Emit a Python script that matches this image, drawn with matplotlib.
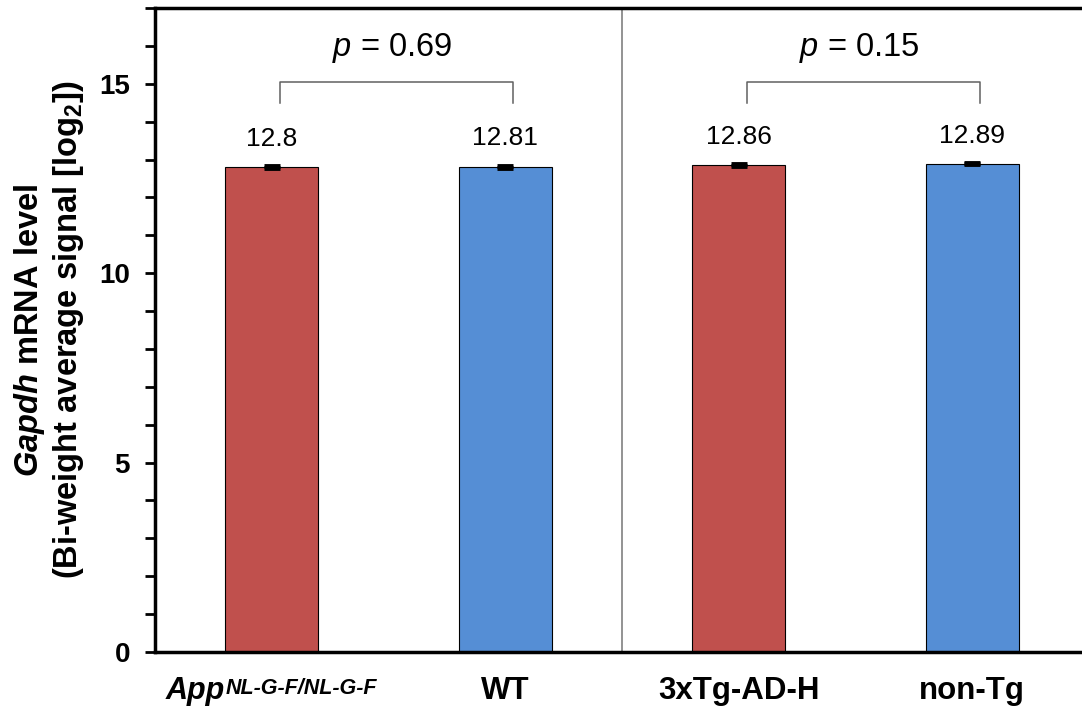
import matplotlib
matplotlib.use("Agg")
import matplotlib.pyplot as plt
from matplotlib.ticker import MultipleLocator
import matplotlib.transforms as mtrans

plt.rcParams['font.family'] = ['Liberation Sans', 'DejaVu Sans']
plt.rcParams['mathtext.fontset'] = 'custom'
plt.rcParams['mathtext.rm'] = 'Liberation Sans'
plt.rcParams['mathtext.it'] = 'Liberation Sans:italic'
plt.rcParams['mathtext.bf'] = 'Liberation Sans:bold'
plt.rcParams['mathtext.bfit'] = 'Liberation Sans:bold:italic'

# ---- data ----
groups = ["App", "WT", "3xTg-AD-H", "non-Tg"]
values = [12.8, 12.81, 12.86, 12.89]
errors = [0.03, 0.03, 0.02, 0.02]
value_labels = ["12.8", "12.81", "12.86", "12.89"]
colors = ["#C0504D", "#558ED5", "#C0504D", "#558ED5"]
pairs = [(0, 1), (2, 3)]
p_values = ["0.69", "0.15"]

W, H = 1082, 711
fig = plt.figure(figsize=(W / 100, H / 100), dpi=100)
ax = fig.add_axes([155 / W, 1 - 652 / H, 934 / W, 644 / H])

x = list(range(len(groups)))
ax.bar(x, values, width=0.4, color=colors, edgecolor='black', linewidth=0.8, zorder=2)
ax.errorbar(x, values, yerr=errors, fmt='none', ecolor='black', elinewidth=2,
            capsize=5.5, capthick=3.5, zorder=3)

for xi, v, e, lab in zip(x, values, errors, value_labels):
    ax.annotate(lab, (xi, v + e), xytext=(0, 14.5), textcoords='offset points',
                ha='center', va='baseline', fontsize=19)

# divider
ax.plot([1.5, 1.5], [0, 17], color='#808080', lw=1.2, zorder=1)

# brackets
for (a, b), p in zip(pairs, p_values):
    xa, xb = a + 0.035, b + 0.035
    ax.plot([xa, xa, xb, xb], [14.5, 15.05, 15.05, 14.5], color='#606060', lw=1.1)
    ax.text((xa + xb) / 2 - 0.02, 15.74, r'$p$ = ' + p, ha='center', va='baseline', fontsize=23.5)

ax.set_xlim(-0.5, 3.5)
ax.set_ylim(0, 17)
ax.yaxis.set_major_locator(MultipleLocator(5))
ax.yaxis.set_minor_locator(MultipleLocator(1))
ax.tick_params(axis='y', which='both', direction='out', length=7, width=2, labelsize=20, pad=11)
for t in ax.get_yticklabels():
    t.set_fontweight('bold')
ax.set_xticks([])
for s in ['left', 'bottom', 'top']:
    ax.spines[s].set_linewidth(2.5)
ax.spines['right'].set_visible(False)

fig.text(49 / W, 1 - 330 / H,
         r'$\mathbfit{Gapdh}$ mRNA level' + '\n' + r'(Bi-weight average signal [log$_{\mathbf{2}}$])',
         rotation=90, ha='center', va='center', fontsize=23.5, fontweight='bold',
         linespacing=1.12, multialignment='center')

# x labels
ylab = (652 - 699) / 644
tr = mtrans.blended_transform_factory(ax.transData, ax.transAxes)
for i in range(1, 4):
    ax.text(x[i], ylab, groups[i], transform=tr, ha='center', va='baseline',
            fontsize=22.5, fontweight='bold')
# App^{NL-G-F/NL-G-F}
fig.canvas.draw()
r = fig.canvas.get_renderer()
t1 = ax.text(x[0], ylab, 'App', transform=tr, ha='left', va='baseline', fontsize=22,
             fontweight='bold', fontstyle='italic')
t2 = ax.text(x[0], ylab, 'NL-G-F/NL-G-F', transform=tr, ha='left', va='baseline', fontsize=15.5,
             fontweight='bold', fontstyle='italic')
w1 = t1.get_window_extent(r).width
w2 = t2.get_window_extent(r).width
gap = 1
tot = w1 + w2 + gap
dpi = fig.dpi
t1.set_transform(tr + mtrans.ScaledTranslation(-tot / 2 / dpi, 0, fig.dpi_scale_trans))
t2.set_transform(tr + mtrans.ScaledTranslation((-tot / 2 + w1 + gap) / dpi, 5 / dpi, fig.dpi_scale_trans))

fig.savefig('out.png', dpi=100)
